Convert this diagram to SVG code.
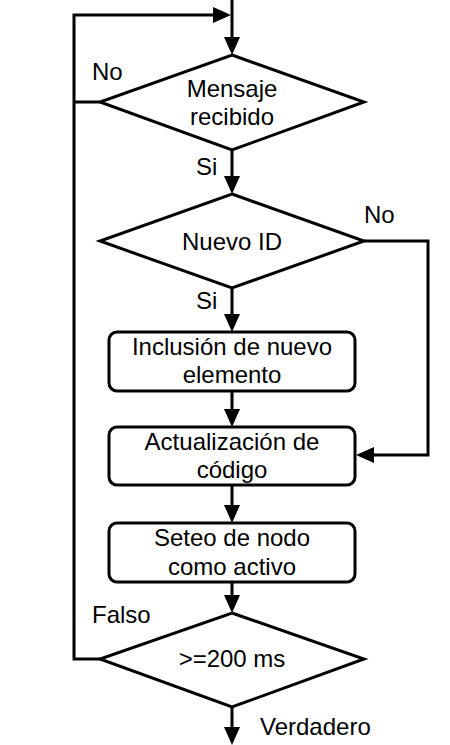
<svg xmlns="http://www.w3.org/2000/svg" width="450" height="745" viewBox="0 0 450 745">
<defs>
<style>
.shape{fill:#fff;stroke:#000;stroke-width:3;stroke-linejoin:miter}
.conn{fill:none;stroke:#000;stroke-width:3;stroke-linejoin:miter}
text{font-family:"Liberation Sans",Arial,sans-serif;font-size:24px;fill:#000}
.c{text-anchor:middle}
</style>
<marker id="arr" markerUnits="userSpaceOnUse" markerWidth="18" markerHeight="16" refX="12" refY="8" orient="auto" viewBox="0 0 18 16">
<path d="M0,0 L18,8 L0,16 z" fill="#000"/>
</marker>
</defs>
<rect width="450" height="745" fill="#fff"/>
<g id="connectors">
<path class="conn" d="M232,0 V49" marker-end="url(#arr)"/>
<path class="conn" d="M100,659 H74 V15 H225" marker-end="url(#arr)"/>
<path class="conn" d="M100,102 H74"/>
<path class="conn" d="M232,150 V188" marker-end="url(#arr)"/>
<path class="conn" d="M232,288 V326" marker-end="url(#arr)"/>
<path class="conn" d="M364,241 H428 V455 H362" marker-end="url(#arr)"/>
<path class="conn" d="M232,391 V421" marker-end="url(#arr)"/>
<path class="conn" d="M232,485 V517" marker-end="url(#arr)"/>
<path class="conn" d="M232,582 V607" marker-end="url(#arr)"/>
<path class="conn" d="M232,707 V739" marker-end="url(#arr)"/>
</g>
<g id="d1">
<polygon class="shape" points="232,55 364,102 232,150 100,102"/>
<text class="c" x="232" y="97">Mensaje</text>
<text class="c" x="232" y="125">recibido</text>
</g>
<g id="d2">
<polygon class="shape" points="232,194 364,241 232,288 100,241"/>
<text class="c" x="232" y="250">Nuevo ID</text>
</g>
<g id="r1">
<rect class="shape" x="109" y="332" width="246" height="59" rx="8"/>
<text class="c" x="232" y="355">Inclusión de nuevo</text>
<text class="c" x="232" y="383">elemento</text>
</g>
<g id="r2">
<rect class="shape" x="109" y="427" width="246" height="58" rx="8"/>
<text class="c" x="232" y="450">Actualización de</text>
<text class="c" x="232" y="478">código</text>
</g>
<g id="r3">
<rect class="shape" x="109" y="523" width="246" height="59" rx="8"/>
<text class="c" x="232" y="546">Seteo de nodo</text>
<text class="c" x="232" y="575">como activo</text>
</g>
<g id="d4">
<polygon class="shape" points="232,613 364,659 232,707 100,659"/>
<text class="c" x="232" y="667">&gt;=200 ms</text>
</g>
<g id="labels">
<text x="92" y="80">No</text>
<text x="196" y="175">Si</text>
<text x="364" y="223">No</text>
<text x="196" y="309">Si</text>
<text x="92" y="623">Falso</text>
<text x="260" y="735">Verdadero</text>
</g>
</svg>
